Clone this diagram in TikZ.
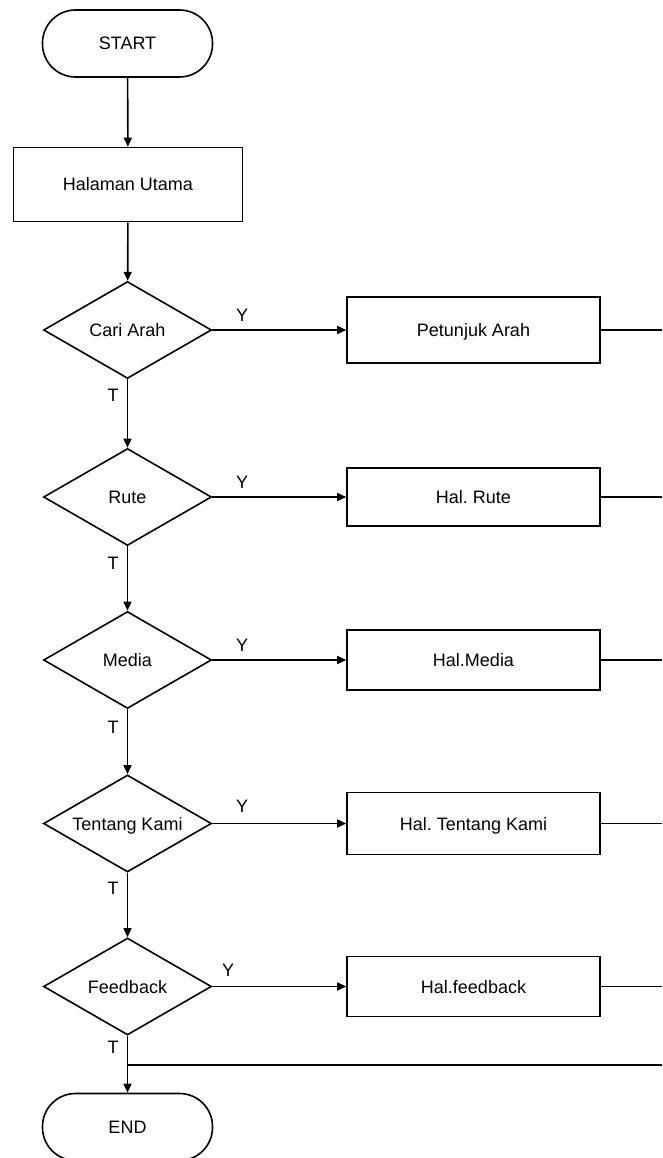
\documentclass[tikz,border=0pt]{standalone}
\usepackage{fontspec}
\setmainfont{Liberation Sans}
\usetikzlibrary{shapes.geometric,arrows.meta}
\begin{document}
\frenchspacing
\begin{tikzpicture}[x=1pt,y=-1pt,
  every node/.style={font=\fontsize{18}{20}\selectfont,text height=13pt,text depth=0pt},
  line/.style={line width=1.6pt},
  arr/.style={line width=1.6pt,-{Triangle[length=9pt,width=8pt]}},
  term/.style={draw,line width=1.6pt,rounded corners=33pt,minimum width=170pt,minimum height=67pt,inner sep=0pt},
  proc/.style={draw,line width=1.6pt,minimum width=253pt,inner sep=0pt},
  dec/.style={draw,line width=1.6pt,diamond,aspect=1.73,minimum width=168pt,minimum height=97pt,inner sep=0pt},
  lbl/.style={inner sep=0pt}]
\useasboundingbox (0,0) rectangle (662,1158);
\fill[white] (0,0) rectangle (662,1158);

\node[term] (start) at (127.5,43.5) {START};
\node[proc,minimum width=229pt,minimum height=74pt] (main) at (128,184.5) {Halaman Utama};

\node[dec] (d1) at (127.5,330) {Cari Arah};
\node[dec] (d2) at (127.5,497) {Rute};
\node[dec] (d3) at (127.5,660) {Media};
\node[dec] (d4) at (127.5,823.5) {Tentang Kami};
\node[dec] (d5) at (127.5,986.5) {Feedback};

\node[proc,minimum height=66pt] (b1) at (473.5,330) {Petunjuk Arah};
\node[proc,minimum height=58pt] (b2) at (473.5,497) {Hal. Rute};
\node[proc,minimum height=60pt] (b3) at (473.5,660) {Hal.Media};
\node[proc,minimum height=62pt] (b4) at (473.5,823.5) {Hal. Tentang Kami};
\node[proc,minimum height=60pt] (b5) at (473.5,986.5) {Hal.feedback};

\node[term] (end) at (127.5,1127) {END};

\node[lbl] (y1) at (242,315) {Y};
\node[lbl] (y2) at (242,482) {Y};
\node[lbl] (y3) at (242,645) {Y};
\node[lbl] (y4) at (242,806) {Y};
\node[lbl] (y5) at (228,970) {Y};

\node[lbl] (t1) at (113,395) {T};
\node[lbl] (t2) at (113,563) {T};
\node[lbl] (t3) at (113,727) {T};
\node[lbl] (t4) at (113,888) {T};
\node[lbl] (t5) at (113,1047) {T};

\draw[arr] (start) -- (main);
\draw[arr] (main) -- (d1);
\draw[arr] (d1) -- (d2);
\draw[arr] (d2) -- (d3);
\draw[arr] (d3) -- (d4);
\draw[arr] (d4) -- (d5);
\draw[arr] (d5) -- (end);

\draw[arr] (d1.east) -- (b1.west);
\draw[arr] (d2.east) -- (b2.west);
\draw[arr] (d3.east) -- (b3.west);
\draw[arr] (d4.east) -- (b4.west);
\draw[arr] (d5.east) -- (b5.west);

\coordinate (r1) at (662,330);
\coordinate (r2) at (662,497);
\coordinate (r3) at (662,660);
\coordinate (r4) at (662,823.5);
\coordinate (r5) at (662,986.5);
\draw[line] (b1.east) -- (r1);
\draw[line] (b2.east) -- (r2);
\draw[line] (b3.east) -- (r3);
\draw[line] (b4.east) -- (r4);
\draw[line] (b5.east) -- (r5);

\coordinate (m6) at (127.5,1065);
\coordinate (r6) at (662,1065);
\draw[line] (m6) -- (r6);
\end{tikzpicture}
\end{document}
